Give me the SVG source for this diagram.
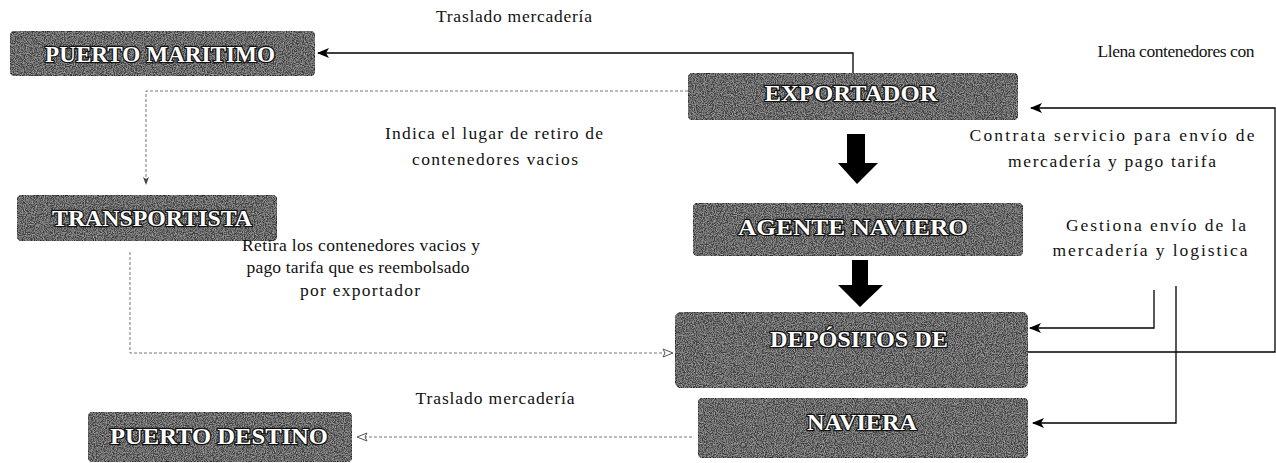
<svg xmlns="http://www.w3.org/2000/svg" width="1276" height="463" viewBox="0 0 1276 463">
<style>
.box{fill:#404040;stroke:#222;stroke-width:1.5}
.nt{font-family:"Liberation Serif",serif;font-weight:bold;font-size:23px;fill:#fff;stroke:#111;stroke-width:2.4;paint-order:stroke;text-anchor:middle}
.lb{font-family:"Liberation Serif",serif;font-size:17.5px;fill:#111;text-anchor:middle}
.solid{fill:none;stroke:#000;stroke-width:1.3}
.dot{fill:none;stroke:#777;stroke-width:1;stroke-dasharray:3 2}
</style>
<defs>
<filter id="tex" x="0" y="0" width="100%" height="100%">
<feTurbulence type="fractalNoise" baseFrequency="0.9" numOctaves="2" seed="4" result="n"/>
<feColorMatrix in="n" type="matrix" values="0 0 0 0 0.7 0 0 0 0 0.7 0 0 0 0 0.7 1.1 0 0 0 -0.4" result="w"/>
<feComposite in="w" in2="SourceGraphic" operator="in" result="wc"/>
<feMerge><feMergeNode in="SourceGraphic"/><feMergeNode in="wc"/></feMerge>
</filter>
<marker id="ah" viewBox="0 0 12 10" refX="11" refY="5" markerWidth="12" markerHeight="10" markerUnits="userSpaceOnUse" orient="auto">
<path d="M12,5 L0,0 L3,5 L0,10 Z" fill="#000"/>
</marker>
<marker id="ao" viewBox="0 0 12 10" refX="11" refY="5" markerWidth="12" markerHeight="10" markerUnits="userSpaceOnUse" orient="auto">
<path d="M11,5 L1,1 L3,5 L1,9 Z" fill="#fff" stroke="#555" stroke-width="1"/>
</marker>
<marker id="as" viewBox="0 0 8 8" refX="7" refY="4" markerWidth="8" markerHeight="8" markerUnits="userSpaceOnUse" orient="auto">
<path d="M8,4 L0,1 L2,4 L0,7 Z" fill="#444"/>
</marker>
</defs>

<g id="connectors">
<polyline class="solid" points="853,73 853,53 318,53" marker-end="url(#ah)"/>
<polyline class="dot" points="688,91 146,91 146,184" marker-end="url(#as)"/>
<path d="M847,134 H865 V163 H878 L857,184 L838,163 H847 Z" fill="#000"/>
<path d="M852,260 H868 V285 H883 L860,307 L838,285 H852 Z" fill="#000"/>
<polyline class="dot" points="130,252 130,353 673,353" marker-end="url(#ao)"/>
<polyline class="dot" points="692,437 357,437" marker-end="url(#ao)"/>
<polyline class="solid" points="1028,352 1275,352 1275,108 1031,108" marker-end="url(#ah)"/>
<polyline class="solid" points="1154,290 1154,328 1030,328" marker-end="url(#ah)"/>
<polyline class="solid" points="1176,286 1176,423 1033,423" marker-end="url(#ah)"/>
</g>

<g id="puerto-maritimo">
<rect class="box" x="10" y="31" width="305" height="45" rx="6" filter="url(#tex)"/>
<text class="nt" x="160" y="62" textLength="230" lengthAdjust="spacingAndGlyphs">PUERTO MARITIMO</text>
</g>
<g id="exportador">
<rect class="box" x="688" y="73" width="330" height="47" rx="6" filter="url(#tex)"/>
<text class="nt" x="851" y="101" textLength="173" lengthAdjust="spacingAndGlyphs">EXPORTADOR</text>
</g>
<g id="agente-naviero">
<rect class="box" x="693" y="203" width="330" height="53" rx="6" filter="url(#tex)"/>
<text class="nt" x="853" y="235" textLength="230" lengthAdjust="spacingAndGlyphs">AGENTE NAVIERO</text>
</g>
<g id="transportista">
<rect class="box" x="17" y="195" width="260" height="46" rx="6" filter="url(#tex)"/>
<text class="nt" x="152" y="226" textLength="200" lengthAdjust="spacingAndGlyphs">TRANSPORTISTA</text>
</g>
<g id="depositos">
<rect class="box" x="675" y="312" width="353" height="76" rx="8" filter="url(#tex)"/>
<text class="nt" x="859" y="347" textLength="178" lengthAdjust="spacingAndGlyphs">DEPÓSITOS DE</text>
</g>
<g id="naviera">
<rect class="box" x="698" y="398" width="330" height="60" rx="6" filter="url(#tex)"/>
<text class="nt" x="862" y="430" textLength="110" lengthAdjust="spacingAndGlyphs">NAVIERA</text>
</g>
<g id="puerto-destino">
<rect class="box" x="88" y="412" width="264" height="50" rx="6" filter="url(#tex)"/>
<text class="nt" x="219" y="444" textLength="218" lengthAdjust="spacingAndGlyphs">PUERTO DESTINO</text>
</g>

<g id="labels">
<text class="lb" x="514" y="22" textLength="156" lengthAdjust="spacing">Traslado mercadería</text>
<text class="lb" x="1176" y="57" textLength="157" lengthAdjust="spacing">Llena contenedores con</text>
<text class="lb" x="1112" y="141" textLength="285" lengthAdjust="spacing">Contrata servicio para envío de</text>
<text class="lb" x="1112" y="167" textLength="208" lengthAdjust="spacing">mercadería y pago tarifa</text>
<text class="lb" x="494" y="139" textLength="218" lengthAdjust="spacing">Indica el lugar de retiro de</text>
<text class="lb" x="495" y="165" textLength="166" lengthAdjust="spacing">contenedores vacios</text>
<text class="lb" x="1156" y="231" textLength="180" lengthAdjust="spacing">Gestiona envío de la</text>
<text class="lb" x="1150" y="256" textLength="195" lengthAdjust="spacing">mercadería y logistica</text>
<text class="lb" x="361" y="251" textLength="238" lengthAdjust="spacing">Retira los contenedores vacios y</text>
<text class="lb" x="358" y="273" textLength="223" lengthAdjust="spacing">pago tarifa que es reembolsado</text>
<text class="lb" x="360" y="296" textLength="120" lengthAdjust="spacing">por exportador</text>
<text class="lb" x="495" y="404" textLength="159" lengthAdjust="spacing">Traslado mercadería</text>
</g>
</svg>
